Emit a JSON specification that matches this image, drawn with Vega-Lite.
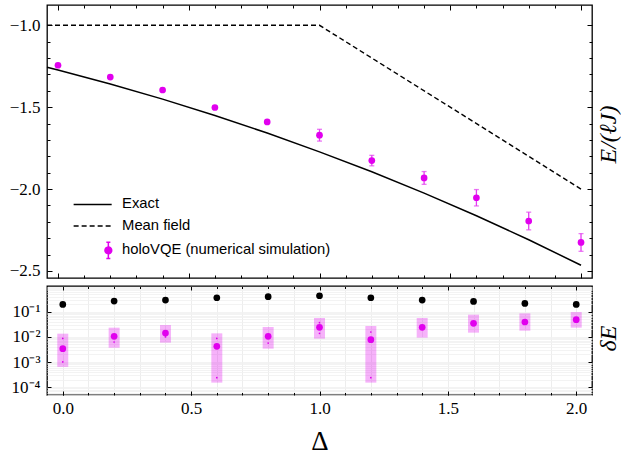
{
  "$schema": "https://vega.github.io/schema/vega-lite/v6.json",
  "padding": {"left": 0, "top": 3, "right": 0, "bottom": 3},
  "background": "white",
  "spacing": 4,
  "config": {
    "view": {"stroke": "black", "strokeWidth": 1.3},
    "axis": {"labelFont": "Liberation Serif", "labelFontSize": 17, "labelColor": "black", "titleFont": "Liberation Serif", "titleColor": "black", "titleFontWeight": "normal", "tickColor": "black", "tickWidth": 1, "domain": false, "grid": false}
  },
  "datasets": {
    "exact": [
      {"delta": -0.042, "E": -1.256, "series": "Exact"},
      {"delta": 0.0, "E": -1.2732, "series": "Exact"},
      {"delta": 0.2, "E": -1.358, "series": "Exact"},
      {"delta": 0.4, "E": -1.4506, "series": "Exact"},
      {"delta": 0.6, "E": -1.5506, "series": "Exact"},
      {"delta": 0.8, "E": -1.6581, "series": "Exact"},
      {"delta": 1.0, "E": -1.7726, "series": "Exact"},
      {"delta": 1.2, "E": -1.8946, "series": "Exact"},
      {"delta": 1.4, "E": -2.0246, "series": "Exact"},
      {"delta": 1.6, "E": -2.1628, "series": "Exact"},
      {"delta": 1.8, "E": -2.3095, "series": "Exact"},
      {"delta": 2.0, "E": -2.465, "series": "Exact"}
    ],
    "meanfield": [
      {"delta": -0.042, "E": -1.0, "series": "Mean field"},
      {"delta": 1.0, "E": -1.0, "series": "Mean field"},
      {"delta": 2.0, "E": -2.0, "series": "Mean field"}
    ],
    "vqe": [
      {"delta": 0.0, "E": -1.244, "lo": -1.249, "hi": -1.239, "series": "holoVQE (numerical simulation)"},
      {"delta": 0.2, "E": -1.316, "lo": -1.321, "hi": -1.311, "series": "holoVQE (numerical simulation)"},
      {"delta": 0.4, "E": -1.395, "lo": -1.4, "hi": -1.39, "series": "holoVQE (numerical simulation)"},
      {"delta": 0.6, "E": -1.502, "lo": -1.507, "hi": -1.497, "series": "holoVQE (numerical simulation)"},
      {"delta": 0.8, "E": -1.59, "lo": -1.595, "hi": -1.585, "series": "holoVQE (numerical simulation)"},
      {"delta": 1.0, "E": -1.671, "lo": -1.707, "hi": -1.635, "series": "holoVQE (numerical simulation)"},
      {"delta": 1.2, "E": -1.826, "lo": -1.858, "hi": -1.794, "series": "holoVQE (numerical simulation)"},
      {"delta": 1.4, "E": -1.932, "lo": -1.971, "hi": -1.893, "series": "holoVQE (numerical simulation)"},
      {"delta": 1.6, "E": -2.053, "lo": -2.103, "hi": -2.003, "series": "holoVQE (numerical simulation)"},
      {"delta": 1.8, "E": -2.195, "lo": -2.249, "hi": -2.141, "series": "holoVQE (numerical simulation)"},
      {"delta": 2.0, "E": -2.326, "lo": -2.38, "hi": -2.272, "series": "holoVQE (numerical simulation)"}
    ],
    "err": [
      {"delta": 0.0, "mf": 0.195, "med": 0.0034, "q1": 0.00064, "q3": 0.0134},
      {"delta": 0.2, "mf": 0.265, "med": 0.0105, "q1": 0.0037, "q3": 0.0232},
      {"delta": 0.4, "mf": 0.29, "med": 0.0142, "q1": 0.0059, "q3": 0.0296},
      {"delta": 0.6, "mf": 0.359, "med": 0.0042, "q1": 0.000152, "q3": 0.0138},
      {"delta": 0.8, "mf": 0.394, "med": 0.0105, "q1": 0.0034, "q3": 0.0247},
      {"delta": 1.0, "mf": 0.431, "med": 0.0239, "q1": 0.0085, "q3": 0.0561},
      {"delta": 1.2, "mf": 0.359, "med": 0.0077, "q1": 0.000152, "q3": 0.027},
      {"delta": 1.4, "mf": 0.29, "med": 0.0239, "q1": 0.0093, "q3": 0.0561},
      {"delta": 1.6, "mf": 0.257, "med": 0.0344, "q1": 0.0147, "q3": 0.076},
      {"delta": 1.8, "mf": 0.214, "med": 0.0389, "q1": 0.0176, "q3": 0.0859},
      {"delta": 2.0, "mf": 0.195, "med": 0.0482, "q1": 0.0232, "q3": 0.097}
    ],
    "dots": [
      {"delta": 0.0, "v": 0.0087}, {"delta": 0.0, "v": 0.00101},
      {"delta": 0.2, "v": 0.00625},
      {"delta": 0.4, "v": 0.0099},
      {"delta": 0.6, "v": 0.0087}, {"delta": 0.6, "v": 0.00024},
      {"delta": 0.8, "v": 0.0057},
      {"delta": 1.0, "v": 0.0366}, {"delta": 1.0, "v": 0.0138},
      {"delta": 1.2, "v": 0.0156}, {"delta": 1.2, "v": 0.00024}
    ]
  },
  "vconcat": [
    {
      "width": 545,
      "height": 273,
      "resolve": {"axis": {"x": "independent", "y": "independent"}},
      "layer": [
        {
          "data": {"name": "meanfield"},
          "mark": {"type": "line", "strokeWidth": 1.4, "strokeDash": [5, 3]},
          "encoding": {
            "x": {"field": "delta", "type": "quantitative", "scale": {"domain": [-0.042, 2.042], "nice": false, "zero": false},
                  "axis": {"orient": "bottom", "values": [0, 0.5, 1, 1.5, 2], "labels": false, "tickSize": -5, "title": null}},
            "y": {"field": "E", "type": "quantitative", "scale": {"domain": [-2.543, -0.876], "nice": false, "zero": false},
                  "axis": {"orient": "left", "values": [-1, -1.5, -2, -2.5], "format": ".1f", "tickSize": -5, "labelPadding": 12, "title": null, "minExtent": 46, "maxExtent": 46}},
            "color": {"field": "series", "type": "nominal",
                      "scale": {"domain": ["Exact", "Mean field", "holoVQE (numerical simulation)"], "range": ["black", "black", "#e100ee"]},
                      "legend": {"title": null, "orient": "none", "legendX": 26, "legendY": 192,
                                 "labelFont": "Liberation Sans", "labelFontSize": 14.8, "labelColor": "black", "labelLimit": 0,
                                 "symbolSize": 45, "symbolStrokeWidth": 1.5, "rowPadding": 5.5, "labelOffset": 22, "symbolOffset": 12.25,
                                 "encode": {"symbols": {"update": {
                                   "shape": {"signal": "datum.value === 'holoVQE (numerical simulation)' ? 'M5.68,0A1,1,0,1,1,3.68,0A1,1,0,1,1,5.68,0ZM4.68,-2.4V2.4M4.08,-2.4H5.28M4.08,2.4H5.28' : 'M-5.67,0H5.67'"},
                                   "strokeDash": {"signal": "datum.value === 'Mean field' ? [5,3] : [1,0]"},
                                   "fill": {"signal": "datum.value === 'holoVQE (numerical simulation)' ? '#e100ee' : 'transparent'"},
                                   "stroke": {"signal": "datum.value === 'holoVQE (numerical simulation)' ? '#e64cf2' : 'black'"},
                                   "strokeWidth": {"value": 1.5},
                                   "opacity": {"value": 1}
                                 }}}}}
          }
        },
        {
          "data": {"name": "exact"},
          "mark": {"type": "line", "strokeWidth": 1.5},
          "encoding": {
            "x": {"field": "delta", "type": "quantitative", "scale": {"domain": [-0.042, 2.042], "nice": false, "zero": false},
                  "axis": {"orient": "top", "values": [0, 0.5, 1, 1.5, 2], "labels": false, "tickSize": -5, "title": null}},
            "y": {"field": "E", "type": "quantitative", "scale": {"domain": [-2.543, -0.876], "nice": false, "zero": false},
                  "axis": {"orient": "right", "values": [-1, -1.5, -2, -2.5], "labels": false, "tickSize": -5, "title": "E/(ℓJ)", "titleFont": "Liberation Serif", "titleFontStyle": "italic", "titleFontSize": 24, "titleAngle": 270, "titlePadding": 28, "titleY": 129}},
            "color": {"field": "series", "type": "nominal",
                      "scale": {"domain": ["Exact", "Mean field", "holoVQE (numerical simulation)"], "range": ["black", "black", "#e100ee"]}}
          }
        },
        {
          "data": {"name": "vqe"},
          "mark": {"type": "errorbar", "ticks": {"size": 5}, "thickness": 1.3, "color": "#e33ef0"},
          "encoding": {
            "x": {"field": "delta", "type": "quantitative", "scale": {"domain": [-0.042, 2.042], "nice": false, "zero": false},
                  "axis": {"orient": "bottom", "values": [0.1, 0.2, 0.3, 0.4, 0.6, 0.7, 0.8, 0.9, 1.1, 1.2, 1.3, 1.4, 1.6, 1.7, 1.8, 1.9], "labels": false, "tickSize": -3, "title": null}},
            "y": {"field": "lo", "type": "quantitative", "scale": {"domain": [-2.543, -0.876], "nice": false, "zero": false},
                  "axis": {"orient": "left", "values": [-1.1, -1.2, -1.3, -1.4, -1.6, -1.7, -1.8, -1.9, -2.1, -2.2, -2.3, -2.4], "labels": false, "tickSize": -3, "title": null}},
            "y2": {"field": "hi"}
          }
        },
        {
          "data": {"name": "vqe"},
          "mark": {"type": "point", "filled": true, "size": 45, "opacity": 1},
          "encoding": {
            "x": {"field": "delta", "type": "quantitative", "scale": {"domain": [-0.042, 2.042], "nice": false, "zero": false},
                  "axis": {"orient": "top", "values": [0.1, 0.2, 0.3, 0.4, 0.6, 0.7, 0.8, 0.9, 1.1, 1.2, 1.3, 1.4, 1.6, 1.7, 1.8, 1.9], "labels": false, "tickSize": -3, "title": null}},
            "y": {"field": "E", "type": "quantitative", "scale": {"domain": [-2.543, -0.876], "nice": false, "zero": false},
                  "axis": {"orient": "right", "values": [-1.1, -1.2, -1.3, -1.4, -1.6, -1.7, -1.8, -1.9, -2.1, -2.2, -2.3, -2.4], "labels": false, "tickSize": -3, "title": null}},
            "color": {"field": "series", "type": "nominal",
                      "scale": {"domain": ["Exact", "Mean field", "holoVQE (numerical simulation)"], "range": ["black", "black", "#e100ee"]}}
          }
        }
      ]
    },
    {
      "width": 545,
      "height": 109,
      "resolve": {"axis": {"x": "independent", "y": "independent"}},
      "layer": [
        {
          "data": {"name": "err"},
          "mark": {"type": "bar", "size": 11, "color": "#e100ee", "opacity": 0.3},
          "encoding": {
            "x": {"field": "delta", "type": "quantitative", "scale": {"domain": [-0.042, 2.042], "nice": false, "zero": false},
                  "axis": {"orient": "bottom", "values": [0, 0.5, 1, 1.5, 2], "format": ".1f", "tickSize": -4, "labelPadding": 9, "title": "Δ", "titleFontSize": 27, "titlePadding": 12}},
            "y": {"field": "q1", "type": "quantitative", "scale": {"type": "log", "domain": [0.000049, 1.05], "nice": false},
                  "axis": {"orient": "left", "values": [0.1, 0.01, 0.001, 0.0001], "labelExpr": "datum.value >= 0.09 ? '10⁻¹' : datum.value >= 0.009 ? '10⁻²' : datum.value >= 0.0009 ? '10⁻³' : '10⁻⁴'", "tickSize": -4, "labelPadding": 11, "title": null, "minExtent": 46, "maxExtent": 46}},
            "y2": {"field": "q3"}
          }
        },
        {
          "data": {"name": "err"},
          "mark": {"type": "point", "filled": true, "size": 45, "color": "black", "opacity": 1},
          "encoding": {
            "x": {"field": "delta", "type": "quantitative", "scale": {"domain": [-0.042, 2.042], "nice": false, "zero": false},
                  "axis": {"orient": "top", "values": [0, 0.5, 1, 1.5, 2], "labels": false, "tickSize": -4, "title": null}},
            "y": {"field": "mf", "type": "quantitative", "scale": {"type": "log", "domain": [0.000049, 1.05], "nice": false},
                  "axis": {"orient": "right", "values": [0.1, 0.01, 0.001, 0.0001], "labels": false, "tickSize": -4, "title": "δE", "titleFont": "Liberation Serif", "titleFontStyle": "italic", "titleFontSize": 24, "titleAngle": 270, "titlePadding": 28, "titleY": 52}}
          }
        },
        {
          "data": {"name": "err"},
          "mark": {"type": "point", "filled": true, "size": 45, "color": "#e100ee", "opacity": 1},
          "encoding": {
            "x": {"field": "delta", "type": "quantitative", "scale": {"domain": [-0.042, 2.042], "nice": false, "zero": false},
                  "axis": {"orient": "bottom", "values": [0, 0.1, 0.2, 0.3, 0.4, 0.5, 0.6, 0.7, 0.8, 0.9, 1.0, 1.1, 1.2, 1.3, 1.4, 1.5, 1.6, 1.7, 1.8, 1.9, 2.0], "labels": false, "tickSize": -2.5, "grid": true, "gridColor": "#e8e8e8", "gridWidth": 0.8, "title": null}},
            "y": {"field": "med", "type": "quantitative", "scale": {"type": "log", "domain": [0.000049, 1.05], "nice": false},
                  "axis": {"orient": "left", "values": [0.00005, 0.00006, 0.00007, 0.00008, 0.00009, 0.0001, 0.0002, 0.0003, 0.0004, 0.0005, 0.0006, 0.0007, 0.0008, 0.0009, 0.001, 0.002, 0.003, 0.004, 0.005, 0.006, 0.007, 0.008, 0.009, 0.01, 0.02, 0.03, 0.04, 0.05, 0.06, 0.07, 0.08, 0.09, 0.1, 0.2, 0.3, 0.4, 0.5, 0.6, 0.7, 0.8, 0.9, 1.0], "labels": false, "ticks": false, "grid": true, "gridColor": "#f0f0f0", "gridWidth": 0.8, "title": null}}
          }
        },
        {
          "data": {"name": "dots"},
          "mark": {"type": "point", "filled": true, "size": 3, "color": "#e100ee", "opacity": 1},
          "encoding": {
            "x": {"field": "delta", "type": "quantitative", "scale": {"domain": [-0.042, 2.042], "nice": false, "zero": false},
                  "axis": {"orient": "top", "values": [0.1, 0.2, 0.3, 0.4, 0.6, 0.7, 0.8, 0.9, 1.1, 1.2, 1.3, 1.4, 1.6, 1.7, 1.8, 1.9], "labels": false, "tickSize": -2.5, "title": null}},
            "y": {"field": "v", "type": "quantitative", "scale": {"type": "log", "domain": [0.000049, 1.05], "nice": false}, "axis": null}
          }
        }
      ]
    }
  ]
}
